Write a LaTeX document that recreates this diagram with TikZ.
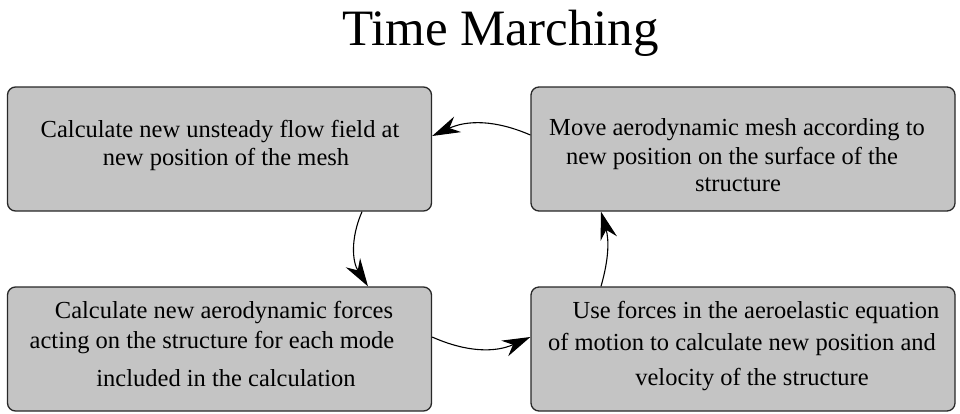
\documentclass[tikz,border=0pt]{standalone}
\usepackage{fontspec}
\setmainfont{Liberation Serif}
\usetikzlibrary{arrows.meta,calc}
\definecolor{boxgray}{RGB}{196,196,196}
\definecolor{boxline}{RGB}{40,40,40}
\begin{document}
\begin{tikzpicture}[x=1pt,y=-1pt,
  stepbox/.style={draw=boxline,line width=1.3pt,fill=boxgray,rounded corners=8pt,
    minimum width=424pt,minimum height=124pt,inner sep=0pt},
  ln/.style={anchor=base,inner sep=0pt,font=\rmfamily\fontsize{24.5}{26}\selectfont},
  flow/.style={line width=1.1pt,-{Stealth[length=28pt,width=17pt,inset=9pt]}}]
\useasboundingbox (0,0) rectangle (960,413);
\node[anchor=base,inner sep=0pt,font=\rmfamily\fontsize{51}{56}\selectfont] (title) at (500.5,45) {Time Marching};
\node[stepbox] (tl) at (219.5,149) {};
\node[stepbox] (tr) at (743,149) {};
\node[stepbox] (bl) at (219.5,349) {};
\node[stepbox] (br) at (743,349) {};
% text lines
\node[ln] (tl1) at (220,137) {Calculate new unsteady flow field at};
\node[ln] (tl2) at (226,165) {new position of the mesh};
\node[ln] (tr1) at (737,135) {Move aerodynamic mesh according to};
\node[ln] (tr2) at (732,164) {new position on the surface of the};
\node[ln] (tr3) at (738,191) {structure};
\node[ln] (bl1) at (224,318) {Calculate new aerodynamic forces};
\node[ln] (bl2) at (212,348) {acting on the structure for each mode};
\node[ln] (bl3) at (226,386) {included in the calculation};
\node[ln] (br1) at (756,318) {Use forces in the aeroelastic equation};
\node[ln] (br2) at (742,350) {of motion to calculate new position and};
\node[ln] (br3) at (752,385) {velocity of the structure};
% connectors
\draw[flow] ([yshift=14pt]tr.west) to[bend right=24] ([yshift=13pt]tl.east);
\draw[flow] ([xshift=142.5pt]tl.south) to[bend right=28] ([xshift=148.5pt]bl.north);
\draw[flow] ([yshift=12pt]bl.east) to[bend right=24] ([yshift=12pt]br.west);
\draw[flow] ([xshift=-142pt]br.north) to[bend right=16] ([xshift=-142pt]tr.south);
\end{tikzpicture}
\end{document}
